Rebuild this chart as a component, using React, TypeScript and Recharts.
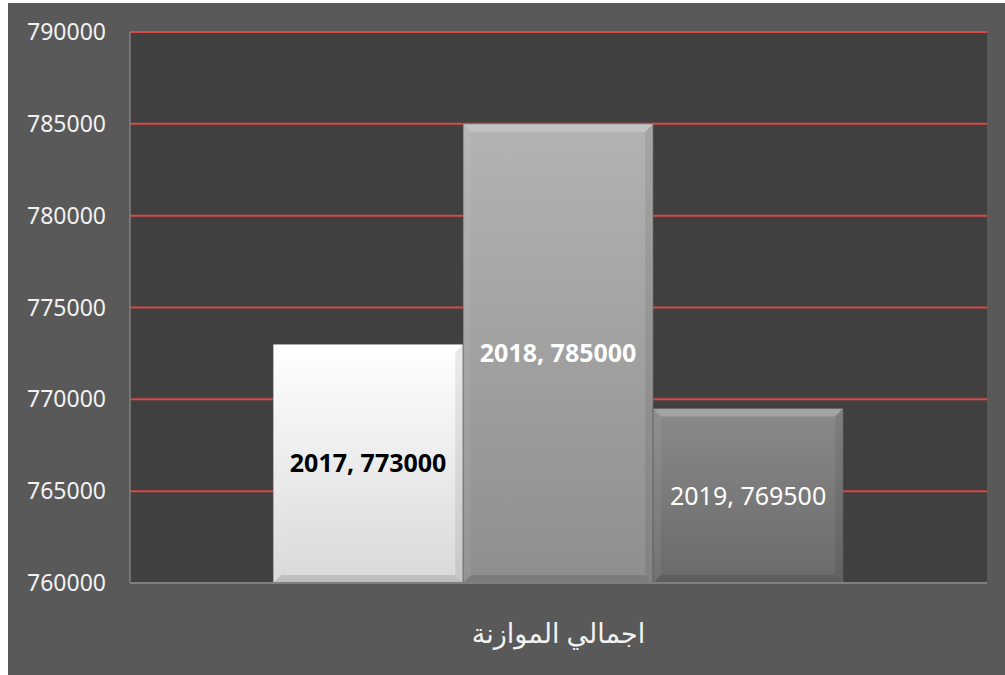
import { BarChart, Bar, XAxis, YAxis, CartesianGrid, LabelList } from 'recharts';

const categories = ['اجمالي الموازنة'];
const years = ['2017', '2018', '2019'];
const budget = [773000, 785000, 769500];
const yTicks = [760000, 765000, 770000, 775000, 780000, 785000, 790000];

const data = categories.map(name => {
  const row: Record<string, string | number> = { name };
  years.forEach((y, i) => {
    row['y' + y] = budget[i];
  });
  return row;
});

const BAR_STYLES: Record<string, { top: string; bottom: string; label: string; weight: number }> = {
  '2017': { top: '#ffffff', bottom: '#d9d9d9', label: '#000000', weight: 700 },
  '2018': { top: '#b3b3b3', bottom: '#8e8e8e', label: '#ffffff', weight: 700 },
  '2019': { top: '#8a8a8a', bottom: '#6a6a6a', label: '#ffffff', weight: 400 },
};

const FONT = '"Noto Sans", "Open Sans", "DejaVu Sans", sans-serif';

function BevelBar(props: any) {
  const { x, y, width, height, year } = props;
  if (!width || !height) return null;
  const b = 8;
  const id = 'grad' + year;
  const s = BAR_STYLES[year];
  return (
    <g>
      <defs>
        <linearGradient id={id} x1="0" y1="0" x2="0" y2="1">
          <stop offset="0%" stopColor={s.top} />
          <stop offset="100%" stopColor={s.bottom} />
        </linearGradient>
      </defs>
      <rect x={x} y={y} width={width} height={height} fill={`url(#${id})`} />
      <polygon
        points={`${x},${y} ${x + width},${y} ${x + width - b},${y + b} ${x + b},${y + b}`}
        fill="#ffffff"
        fillOpacity={0.22}
      />
      <polygon
        points={`${x},${y} ${x + b},${y + b} ${x + b},${y + height - b} ${x},${y + height}`}
        fill="#ffffff"
        fillOpacity={0.06}
      />
      <polygon
        points={`${x + width},${y} ${x + width},${y + height} ${x + width - b},${y + height - b} ${x + width - b},${y + b}`}
        fill="#000000"
        fillOpacity={0.08}
      />
      <polygon
        points={`${x},${y + height} ${x + b},${y + height - b} ${x + width - b},${y + height - b} ${x + width},${y + height}`}
        fill="#000000"
        fillOpacity={0.12}
      />
      <rect x={x} y={y} width={width} height={height} fill="none" stroke="#555" strokeOpacity={0.5} />
    </g>
  );
}

export default function App() {
  return (
    <div style={{ position: 'absolute', left: 8, top: 3, width: 997, height: 672, background: '#595959' }}>
      <BarChart
        width={997}
        height={672}
        data={data}
        margin={{ top: 29, right: 18, bottom: 62, left: 0 }}
        barCategoryGap="16.7%"
        barGap={0}
      >
        <CartesianGrid vertical={false} stroke="#d64a4a" strokeWidth={2} fill="#404040" />
        <XAxis
          dataKey="name"
          axisLine={{ stroke: '#7f7f7f', strokeWidth: 2 }}
          tickLine={false}
          tickSize={0}
          tickMargin={41}
          tick={{ fill: '#f2f2f2', fontSize: 27, fontFamily: FONT }}
        />
        <YAxis
          domain={[760000, 790000]}
          ticks={yTicks}
          width={122}
          interval={0}
          axisLine={{ stroke: '#7f7f7f', strokeWidth: 1.5 }}
          tickLine={false}
          tickSize={0}
          tickMargin={24}
          tick={{ fill: '#f2f2f2', fontSize: 23, fontFamily: FONT }}
        />
        {years.map(y => (
          <Bar
            key={y}
            dataKey={'y' + y}
            isAnimationActive={false}
            shape={(p: any) => <BevelBar {...p} year={y} />}
          >
            <LabelList
              dataKey={'y' + y}
              position="center"
              formatter={(v: any) => `${y}, ${v}`}
              fill={BAR_STYLES[y].label}
              fontSize={25}
              fontWeight={BAR_STYLES[y].weight}
              fontFamily={FONT}
            />
          </Bar>
        ))}
      </BarChart>
    </div>
  );
}
